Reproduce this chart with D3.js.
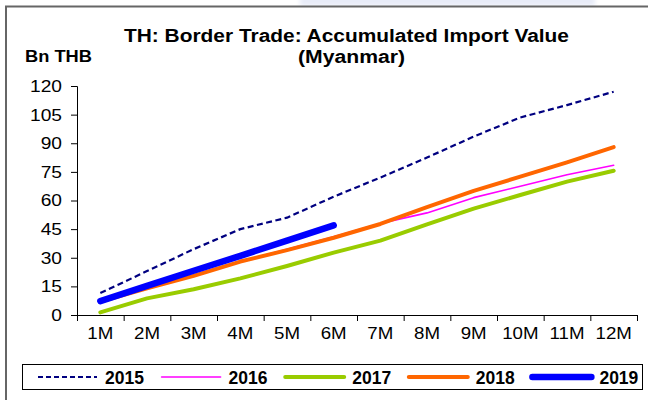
<!DOCTYPE html>
<html>
<head>
<meta charset="utf-8">
<script src="https://cdn.jsdelivr.net/npm/d3@7"></script>
<style>
  html, body { margin: 0; padding: 0; background: #fff; }
  svg { display: block; font-family: Arial, "Liberation Sans", sans-serif; }
</style>
</head>
<body>
<svg id="chart" width="648" height="400"></svg>
<script>
// Months on the category axis
const months = ["1M", "2M", "3M", "4M", "5M", "6M", "7M", "8M", "9M", "10M", "11M", "12M"];

// Accumulated import value, Bn THB
const v2015 = [11.5, 23, 34.5, 45, 51, 62, 72, 82.5, 93.5, 103.5, 110, 117];
const v2016 = [7, 14.5, 21, 28, 34.5, 41, 48, 53.5, 61.5, 67.5, 73.5, 78.5];
const v2017 = [1.4, 8.7, 13.5, 19.2, 25.7, 32.7, 39, 47.5, 55.7, 62.9, 69.9, 75.6];
const v2018 = [7, 14, 20.5, 28, 34, 40.5, 47.7, 56.5, 65, 72.5, 80, 88];
const v2019 = [7.3, 15.3, 23.2, 31, 39, 47];

const yTicks = [0, 15, 30, 45, 60, 75, 90, 105, 120];
const seriesNames = ["2015", "2016", "2017", "2018", "2019"];

const series = [
  { name: "2015", values: v2015, color: "#000080", width: 2.2, dash: "6,3.5" },
  { name: "2016", values: v2016, color: "#ff00ff", width: 1.6, dash: null },
  { name: "2017", values: v2017, color: "#99cc00", width: 4, dash: null },
  { name: "2018", values: v2018, color: "#ff6600", width: 4, dash: null },
  { name: "2019", values: v2019, color: "#0000ff", width: 6.5, dash: null }
];

const FONT = "Arial, 'Liberation Sans', sans-serif";
const svg = d3.select("#chart");

// faint background tint above the frame
const defs = svg.append("defs");
defs.append("filter").attr("id", "soft")
  .append("feGaussianBlur").attr("stdDeviation", 2);
svg.append("rect").attr("x", 300).attr("y", -4).attr("width", 295).attr("height", 10)
  .attr("fill", "#e8ecf8").attr("filter", "url(#soft)");

// outer frame (runs off the right and bottom edges)
svg.append("path")
  .attr("d", "M6,402 L6,6.5 L652,6.5")
  .attr("fill", "none").attr("stroke", "#666").attr("stroke-width", 2);

const plot = { left: 77, right: 637, top: 86, bottom: 315 };

const x = d3.scaleBand().domain(months).range([plot.left, plot.right]).padding(0);
const xEdge = d3.scaleLinear().domain([0, months.length]).range([plot.left, plot.right]);
const y = d3.scaleLinear().domain([0, 120]).range([plot.bottom, plot.top]);

// y axis
const yAxis = svg.append("g")
  .attr("transform", `translate(${plot.left},0)`)
  .call(d3.axisLeft(y).tickValues(yTicks).tickSize(6).tickSizeOuter(6).tickPadding(9));
yAxis.selectAll("line, path").attr("stroke", "#000");
yAxis.selectAll(".tick text")
  .attr("font-size", 17).attr("fill", "#000").attr("font-family", FONT)
  .attr("x", 0)
  .attr("transform", "translate(-15,0) scale(1.13,1)");

// x axis: tick marks at category boundaries
const xAxis = svg.append("g")
  .attr("transform", `translate(0,${plot.bottom})`)
  .call(d3.axisBottom(xEdge).tickValues(d3.range(months.length + 1)).tickFormat("").tickSize(6).tickSizeOuter(6));
xAxis.selectAll("line, path").attr("stroke", "#000");

// x labels centred in each category
const xLabels = svg.append("g")
  .attr("transform", `translate(0,${plot.bottom})`)
  .call(d3.axisBottom(x).tickSize(0).tickPadding(12));
xLabels.select(".domain").remove();
xLabels.selectAll(".tick text")
  .attr("font-size", 17).attr("fill", "#000").attr("font-family", FONT)
  .attr("transform", "scale(1.1,1)");

// lines
const line = d3.line()
  .x((d, i) => x(months[i]) + x.bandwidth() / 2)
  .y(d => y(d));

svg.append("g").selectAll("path")
  .data(series)
  .join("path")
  .attr("d", d => line(d.values))
  .attr("fill", "none")
  .attr("stroke", d => d.color)
  .attr("stroke-width", d => d.width)
  .attr("stroke-dasharray", d => d.dash)
  .attr("stroke-linecap", d => d.dash ? "butt" : "round")
  .attr("stroke-linejoin", "round");

// title
svg.append("text")
  .attr("x", 346.5).attr("y", 42)
  .attr("text-anchor", "middle").attr("font-size", 17.5).attr("font-weight", "bold")
  .attr("textLength", 445).attr("lengthAdjust", "spacingAndGlyphs")
  .text("TH: Border Trade: Accumulated Import Value");
svg.append("text")
  .attr("x", 351.5).attr("y", 63)
  .attr("text-anchor", "middle").attr("font-size", 17.5).attr("font-weight", "bold")
  .attr("textLength", 107).attr("lengthAdjust", "spacingAndGlyphs")
  .text("(Myanmar)");
svg.append("text")
  .attr("x", 25).attr("y", 62)
  .attr("font-size", 17).attr("font-weight", "bold")
  .attr("textLength", 67).attr("lengthAdjust", "spacingAndGlyphs")
  .text("Bn THB");

// legend
const legend = svg.append("g");
legend.append("rect")
  .attr("x", 22.5).attr("y", 364.5).attr("width", 620).attr("height", 25)
  .attr("fill", "#fff").attr("stroke", "#000").attr("stroke-width", 1);

const entry = legend.selectAll("g.entry")
  .data(series)
  .join("g")
  .attr("class", "entry")
  .attr("transform", (d, i) => `translate(${38 + i * 123.6},377)`);
entry.append("line")
  .attr("x1", 0).attr("x2", 59).attr("y1", 0).attr("y2", 0)
  .attr("stroke", d => d.color)
  .attr("stroke-width", d => d.width)
  .attr("stroke-dasharray", d => d.dash ? "5,3" : null)
  .attr("stroke-linecap", d => d.dash ? "butt" : "round");
entry.append("text")
  .attr("x", 67).attr("y", 6.5)
  .attr("font-size", 17.5).attr("font-weight", "bold")
  .text((d, i) => seriesNames[i]);
</script>
</body>
</html>
